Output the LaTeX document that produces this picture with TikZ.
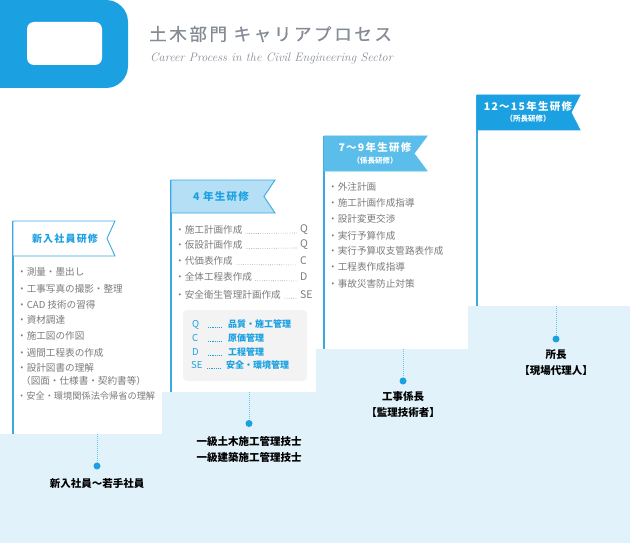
\documentclass[tikz,border=0pt]{standalone}
\usepackage{fontspec}
\newfontfamily\jp{Noto Sans CJK JP}
\newfontfamily\jpls{Noto Sans CJK JP}[LetterSpace=12]
\newfontfamily\jptitle{Noto Sans CJK JP}[LetterSpace=15,FakeBold=0.8]
\definecolor{mainblue}{HTML}{1BA1E2}
\definecolor{bordblue}{HTML}{3AA9E2}
\definecolor{flagtwo}{HTML}{B4DFF5}
\definecolor{flagthree}{HTML}{5BBEEA}
\definecolor{stairbg}{HTML}{E1F2FB}
\definecolor{itemgray}{HTML}{7A7A7A}
\definecolor{titlegray}{HTML}{858C96}
\definecolor{legbox}{HTML}{F3F3F3}
\definecolor{stemblue}{HTML}{6CC3EC}
\tikzset{
  item/.style={anchor=west, inner sep=0pt, text=itemgray, font=\jp\fontsize{9.6}{11}\selectfont},
  letter/.style={anchor=west, inner sep=0pt, text=itemgray, font=\jp\fontsize{10.5}{11}\selectfont},
  leader/.style={draw=itemgray!70, line width=0.6pt, dash pattern=on 0.6pt off 1.2pt},
  legtxt/.style={anchor=west, inner sep=0pt, text=mainblue, font=\jp\fontsize{9.5}{10}\selectfont},
  legdots/.style={draw=mainblue, line width=0.6pt, dash pattern=on 0.6pt off 1.2pt},
  cardline/.style={draw=bordblue, line width=1.5pt},
  flagshape/.style={draw=bordblue, line width=0.9pt},
  flagtxt/.style={inner sep=0pt, font=\jpls\bfseries\fontsize{10}{12}\selectfont},
  flagsub/.style={inner sep=0pt, font=\jp\bfseries\fontsize{7.5}{9}\selectfont},
  lab/.style={inner sep=0pt, align=center, text=black, font=\jp\bfseries\fontsize{10.5}{16}\selectfont},
  dotc/.style={circle, fill=mainblue, inner sep=0pt, minimum size=7pt},
  stem/.style={draw=stemblue, line width=0.8pt, dash pattern=on 1pt off 1pt},
}
\begin{document}
\begin{tikzpicture}[x=1pt,y=-1pt]
\useasboundingbox (0,0) rectangle (630,543);
% header D
\begin{scope}
\clip (0,0) rectangle (630,543);
\fill[mainblue, rounded corners=22pt] (-40,0) -- (128,0) -- (128,88) -- (-40,88) -- cycle;
\end{scope}
\fill[white, rounded corners=7pt] (27,22) rectangle (102,65);
\node[anchor=west, inner sep=0pt, text=titlegray, font=\jptitle\fontsize{17.5}{20}\selectfont] (title) at (149,34) {土木部門 キャリアプロセス};
\node[anchor=west, inner sep=0pt, text=titlegray, font=\itshape\fontsize{12.2}{13}\selectfont] (subtitle) at (150,58) {Career Process in the Civil Engineering Sector};
% staircase
\fill[stairbg] (0,434) -- (162,434) -- (162,392) -- (316,392) -- (316,349) -- (468,349) -- (468,306) -- (630,306) -- (630,543) -- (0,543) -- cycle;
% card lines
\coordinate (l1t) at (13,221); \coordinate (l1b) at (13,434);
\coordinate (l2t) at (171,180); \coordinate (l2b) at (171,392);
\coordinate (l3t) at (324,136); \coordinate (l3b) at (324,349);
\coordinate (l4t) at (477,95); \coordinate (l4b) at (477,306);
\draw[cardline] (l1t) -- (l1b);
\draw[cardline] (l2t) -- (l2b);
\draw[cardline] (l3t) -- (l3b);
\draw[cardline] (l4t) -- (l4b);
% flags
\filldraw[flagshape, fill=white] (13,221) -- (115,221) -- (107,238.5) -- (115,256) -- (13,256) -- cycle;
\filldraw[flagshape, fill=flagtwo] (171,180) -- (275,180) -- (264,196.5) -- (275,213) -- (171,213) -- cycle;
\filldraw[flagshape, draw=flagthree, fill=flagthree] (324,136) -- (427,136) -- (414,153.5) -- (427,171) -- (324,171) -- cycle;
\filldraw[flagshape, draw=mainblue, fill=mainblue] (477,95) -- (580,95) -- (571,112.5) -- (580,130) -- (477,130) -- cycle;
\node[flagtxt, text=mainblue] (f1) at (65,238.5) {新入社員研修};
\node[flagtxt, text=mainblue, font=\jpls\bfseries\fontsize{10.5}{12}\selectfont] (f2) at (221,196.5) {4 年生研修};
\node[flagtxt, text=white, font=\jpls\bfseries\fontsize{10.5}{12}\selectfont] (f3) at (375,148) {7〜9年生研修};
\node[flagsub, text=white] (f3s) at (375,161) {（係長研修）};
\node[flagtxt, text=white, font=\jpls\bfseries\fontsize{10.5}{12}\selectfont] (f4) at (528,107) {12〜15年生研修};
\node[flagsub, text=white] (f4s) at (528,119) {（所長研修）};
% card 1 items
\node[item] (a1) at (17,272) {・測量・墨出し};
\node[item] (a2) at (17,288.5) {・工事写真の撮影・整理};
\node[item] (a3) at (17,304.5) {・CAD 技術の習得};
\node[item] (a4) at (17,320) {・資材調達};
\node[item] (a5) at (17,336) {・施工図の作図};
\node[item] (a6) at (17,352.5) {・週間工程表の作成};
\node[item] (a7) at (17,367.5) {・設計図書の理解};
\node[item] (a8) at (17,381) {\hspace{4pt}（図面・仕様書・契約書等）};
\node[item, font=\jp\fontsize{9.2}{11}\selectfont] (a9) at (17,396) {・安全・環境関係法令帰省の理解};
% card 2 items
\node[item] (b1) at (175,230) {・施工計画作成};
\node[item] (b2) at (175,245) {・仮設計画作成};
\node[item] (b3) at (175,261) {・代価表作成};
\node[item] (b4) at (175,277) {・全体工程表作成};
\node[item] (b5) at (175,294.5) {・安全衛生管理計画作成};
\node[letter] (q1) at (300,230) {Q};
\node[letter] (q2) at (300,245) {Q};
\node[letter] (q3) at (300,261) {C};
\node[letter] (q4) at (300,277) {D};
\node[letter] (q5) at (300,294.5) {SE};
\draw[leader] ([xshift=3pt]b1.base east) -- ([xshift=-3pt]q1.base west);
\draw[leader] ([xshift=3pt]b2.base east) -- ([xshift=-3pt]q2.base west);
\draw[leader] ([xshift=3pt]b3.base east) -- ([xshift=-3pt]q3.base west);
\draw[leader] ([xshift=3pt]b4.base east) -- ([xshift=-3pt]q4.base west);
\draw[leader] ([xshift=3pt]b5.base east) -- ([xshift=-3pt]q5.base west);
% legend box
\fill[legbox, rounded corners=4pt] (183,310) rectangle (307,381);
\node[legtxt] (k1) at (192,324.5) {Q};
\node[legtxt] (k2) at (192,338) {C};
\node[legtxt] (k3) at (192,352) {D};
\node[legtxt] (k4) at (191,365.5) {SE};
\node[legtxt, font=\jp\bfseries\fontsize{9}{10}\selectfont] (m1) at (228,324.5) {品質・施工管理};
\node[legtxt, font=\jp\bfseries\fontsize{9}{10}\selectfont] (m2) at (228,338) {原価管理};
\node[legtxt, font=\jp\bfseries\fontsize{9}{10}\selectfont] (m3) at (228,352) {工程管理};
\node[legtxt, font=\jp\bfseries\fontsize{9}{10}\selectfont] (m4) at (226,365.5) {安全・環境管理};
\draw[legdots] (208,327.5) -- (221,327.5);
\draw[legdots] (208,341) -- (221,341);
\draw[legdots] (208,355) -- (221,355);
\draw[legdots] (207,368.5) -- (220,368.5);
% card 3 items
\node[item] (c1) at (328,187) {・外注計画};
\node[item] (c2) at (328,202.5) {・施工計画作成指導};
\node[item] (c3) at (328,219) {・設計変更交渉};
\node[item] (c4) at (328,235.5) {・実行予算作成};
\node[item] (c5) at (328,251) {・実行予算収支管路表作成};
\node[item] (c6) at (328,267) {・工程表作成指導};
\node[item] (c7) at (328,283.5) {・事故災害防止対策};
% stems and dots
\coordinate (s1) at (97,434);
\coordinate (s2) at (249,392);
\coordinate (s3) at (403,349);
\coordinate (s4) at (556,306);
\node[dotc] (p1) at (97,466) {};
\node[dotc] (p2) at (249,423.5) {};
\node[dotc] (p3) at (403,381) {};
\node[dotc] (p4) at (556,339) {};
\draw[stem] (s1) -- (p1);
\draw[stem] (s2) -- (p2);
\draw[stem] (s3) -- (p3);
\draw[stem] (s4) -- (p4);
\node[lab] (t1) at (97,483.5) {新入社員〜若手社員};
\node[lab] (t2) at (249,449) {一級土木施工管理技士\\一級建築施工管理技士};
\node[lab] (t3) at (403,405) {工事係長\\【監理技術者】};
\node[lab] (t4) at (556,363) {所長\\【現場代理人】};
\end{tikzpicture}
\end{document}
